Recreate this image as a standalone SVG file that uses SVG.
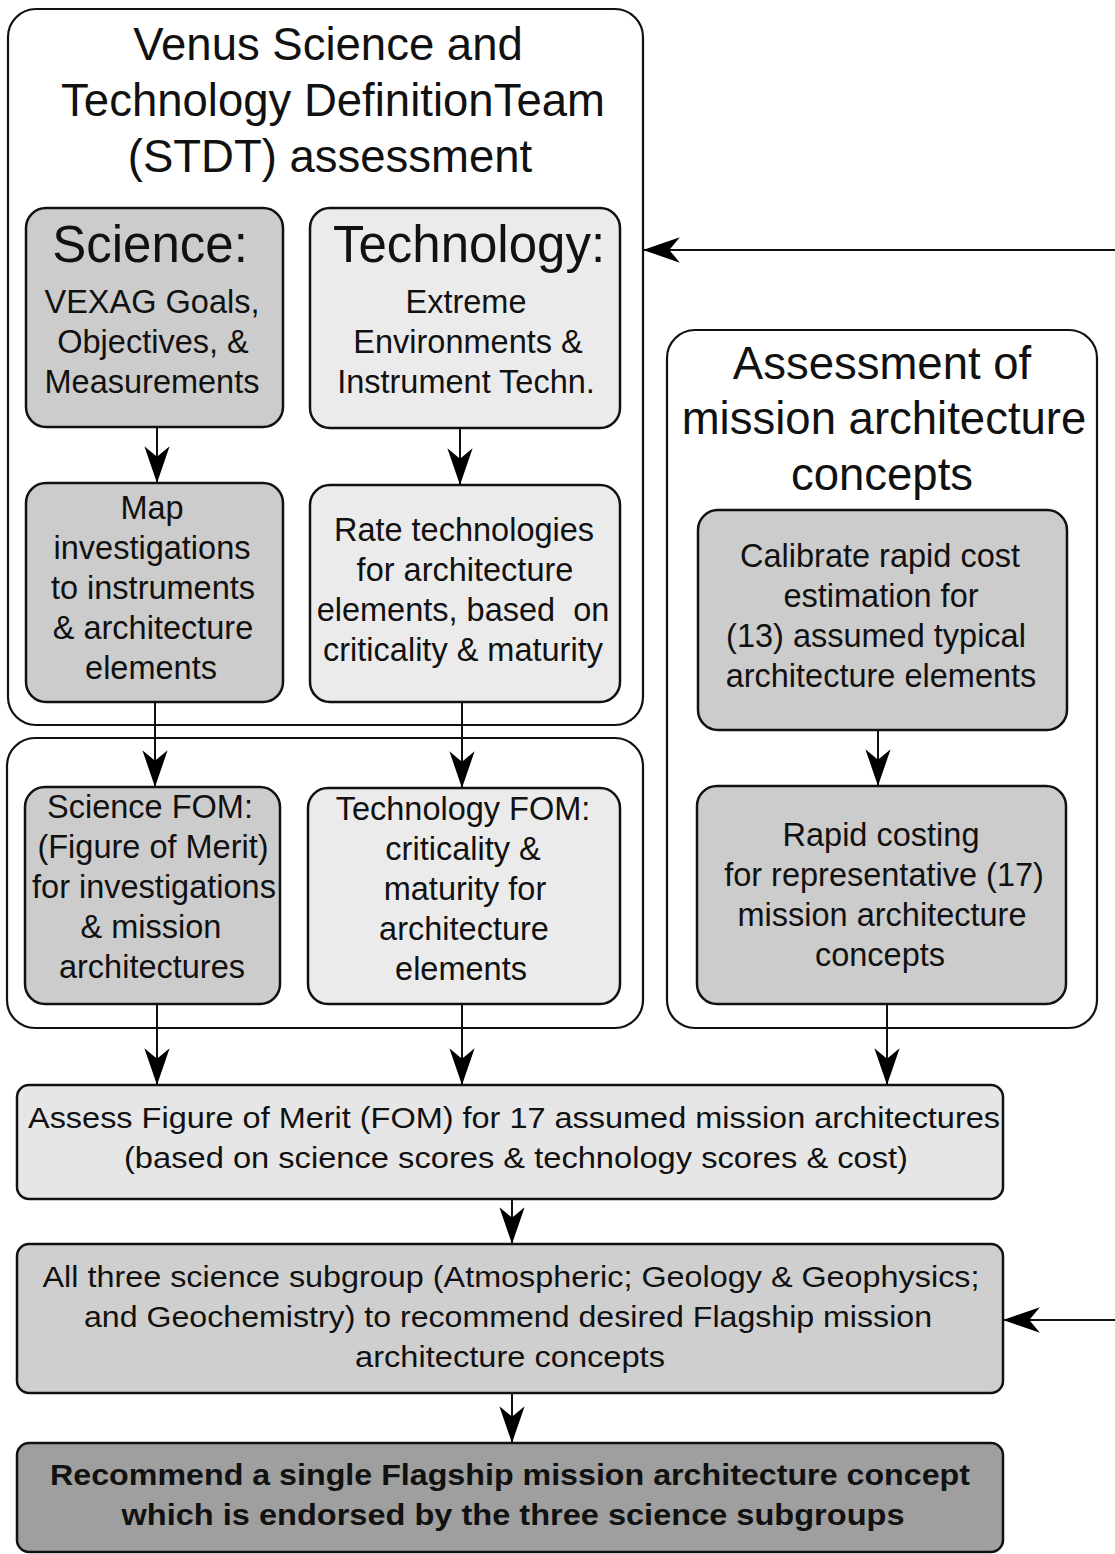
<svg xmlns="http://www.w3.org/2000/svg" width="1115" height="1554" viewBox="0 0 1115 1554">
<style>
text{font-family:"Liberation Sans",Arial,sans-serif;fill:#111;text-anchor:middle}
.t{font-size:45.5px}
.h{font-size:51px}
.b{font-size:32.5px}
.w{font-size:30px}
.bold{font-size:30px;font-weight:bold}
.frame{fill:#fff;stroke:#111;stroke-width:2.2}
.box{stroke:#111;stroke-width:2.5}
.dark{fill:#cccccc}
.light{fill:#ebebeb}
.conn line{stroke:#111;stroke-width:2}
</style>
<defs>
<marker id="ah" markerUnits="userSpaceOnUse" markerWidth="40" markerHeight="30" viewBox="-36 -13 38 26" refX="0" refY="0" orient="auto">
<path d="M0,0 L-35,-12 L-25,0 L-35,12 Z" fill="#000"/>
</marker>
</defs>
<rect width="1115" height="1554" fill="#fff"/>

<g id="stdt">
<rect class="frame" x="8" y="9" width="635" height="716" rx="28"/>
<text class="t" x="328" y="60">Venus Science and</text>
<text class="t" x="333" y="116">Technology DefinitionTeam</text>
<text class="t" x="330" y="172">(STDT) assessment</text>
</g>
<g id="fomgroup">
<rect class="frame" x="7" y="738" width="636" height="290" rx="28"/>
</g>
<g id="assessment">
<rect class="frame" x="667" y="330" width="430" height="698" rx="28"/>
<text class="t" x="882" y="379">Assessment of</text>
<text class="t" x="884" y="434">mission architecture</text>
<text class="t" x="882" y="490">concepts</text>
</g>

<g id="science">
<rect class="box dark" x="26" y="208" width="257" height="219" rx="20"/>
<text class="h" x="150" y="262">Science:</text>
<text class="b" x="152" y="313">VEXAG Goals,</text>
<text class="b" x="153" y="353">Objectives, &amp;</text>
<text class="b" x="152" y="393">Measurements</text>
</g>
<g id="technology">
<rect class="box light" x="310" y="208" width="310" height="220" rx="20"/>
<text class="h" x="469" y="262">Technology:</text>
<text class="b" x="466" y="313">Extreme</text>
<text class="b" x="468" y="353">Environments &amp;</text>
<text class="b" x="466" y="393">Instrument Techn.</text>
</g>
<g id="map">
<rect class="box dark" x="26" y="483" width="257" height="219" rx="20"/>
<text class="b" x="152" y="519">Map</text>
<text class="b" x="152" y="559">investigations</text>
<text class="b" x="153" y="599">to instruments</text>
<text class="b" x="153" y="639">&amp; architecture</text>
<text class="b" x="151" y="679">elements</text>
</g>
<g id="rate">
<rect class="box light" x="310" y="485" width="310" height="217" rx="20"/>
<text class="b" x="464" y="541">Rate technologies</text>
<text class="b" x="465" y="581">for architecture</text>
<text class="b" x="463" y="621" xml:space="preserve">elements, based  on</text>
<text class="b" x="463" y="661">criticality &amp; maturity</text>
</g>
<g id="sciencefom">
<rect class="box dark" x="25" y="787" width="255" height="217" rx="20"/>
<text class="b" x="150" y="818">Science FOM:</text>
<text class="b" x="153" y="858">(Figure of Merit)</text>
<text class="b" x="154" y="898">for investigations</text>
<text class="b" x="151" y="938">&amp; mission</text>
<text class="b" x="152" y="978">architectures</text>
</g>
<g id="techfom">
<rect class="box light" x="308" y="788" width="312" height="216" rx="20"/>
<text class="b" x="463" y="820">Technology FOM:</text>
<text class="b" x="463" y="860">criticality &amp;</text>
<text class="b" x="465" y="900">maturity for</text>
<text class="b" x="464" y="940">architecture</text>
<text class="b" x="461" y="980">elements</text>
</g>
<g id="calibrate">
<rect class="box dark" x="698" y="510" width="369" height="220" rx="20"/>
<text class="b" x="880" y="567">Calibrate rapid cost</text>
<text class="b" x="881" y="607">estimation for</text>
<text class="b" x="876" y="647">(13) assumed typical</text>
<text class="b" x="881" y="687">architecture elements</text>
</g>
<g id="rapid">
<rect class="box dark" x="697" y="786" width="369" height="218" rx="20"/>
<text class="b" x="881" y="846">Rapid costing</text>
<text class="b" x="884" y="886">for representative (17)</text>
<text class="b" x="882" y="926">mission architecture</text>
<text class="b" x="880" y="966">concepts</text>
</g>
<g id="assess">
<rect class="box" fill="#e6e6e6" x="17" y="1085" width="986" height="114" rx="12"/>
<text class="w" x="514" y="1128" textLength="972" lengthAdjust="spacingAndGlyphs">Assess Figure of Merit (FOM) for 17 assumed mission architectures</text>
<text class="w" x="516" y="1168" textLength="784" lengthAdjust="spacingAndGlyphs">(based on science scores &amp; technology scores &amp; cost)</text>
</g>
<g id="subgroups">
<rect class="box" fill="#cfcfcf" x="17" y="1244" width="986" height="149" rx="12"/>
<text class="w" x="511" y="1287" textLength="937" lengthAdjust="spacingAndGlyphs">All three science subgroup (Atmospheric; Geology &amp; Geophysics;</text>
<text class="w" x="508" y="1327" textLength="848" lengthAdjust="spacingAndGlyphs">and Geochemistry) to recommend desired Flagship mission</text>
<text class="w" x="510" y="1367" textLength="310" lengthAdjust="spacingAndGlyphs">architecture concepts</text>
</g>
<g id="recommend">
<rect class="box" fill="#9f9f9f" x="17" y="1443" width="986" height="109" rx="12"/>
<text class="bold" x="510" y="1485" textLength="920" lengthAdjust="spacingAndGlyphs">Recommend a single Flagship mission architecture concept</text>
<text class="bold" x="513" y="1525" textLength="783" lengthAdjust="spacingAndGlyphs">which is endorsed by the three science subgroups</text>
</g>

<g id="connectors" class="conn">
<line x1="157" y1="427" x2="157" y2="483" marker-end="url(#ah)"/>
<line x1="460" y1="428" x2="460" y2="485" marker-end="url(#ah)"/>
<line x1="155" y1="702" x2="155" y2="787" marker-end="url(#ah)"/>
<line x1="462" y1="702" x2="462" y2="788" marker-end="url(#ah)"/>
<line x1="878" y1="730" x2="878" y2="786" marker-end="url(#ah)"/>
<line x1="157" y1="1004" x2="157" y2="1085" marker-end="url(#ah)"/>
<line x1="462" y1="1004" x2="462" y2="1085" marker-end="url(#ah)"/>
<line x1="887" y1="1004" x2="887" y2="1085" marker-end="url(#ah)"/>
<line x1="512" y1="1199" x2="512" y2="1244" marker-end="url(#ah)"/>
<line x1="512" y1="1393" x2="512" y2="1443" marker-end="url(#ah)"/>
<line x1="1115" y1="250" x2="643" y2="250" marker-end="url(#ah)"/>
<line x1="1115" y1="1320" x2="1003" y2="1320" marker-end="url(#ah)"/>
</g>
</svg>
